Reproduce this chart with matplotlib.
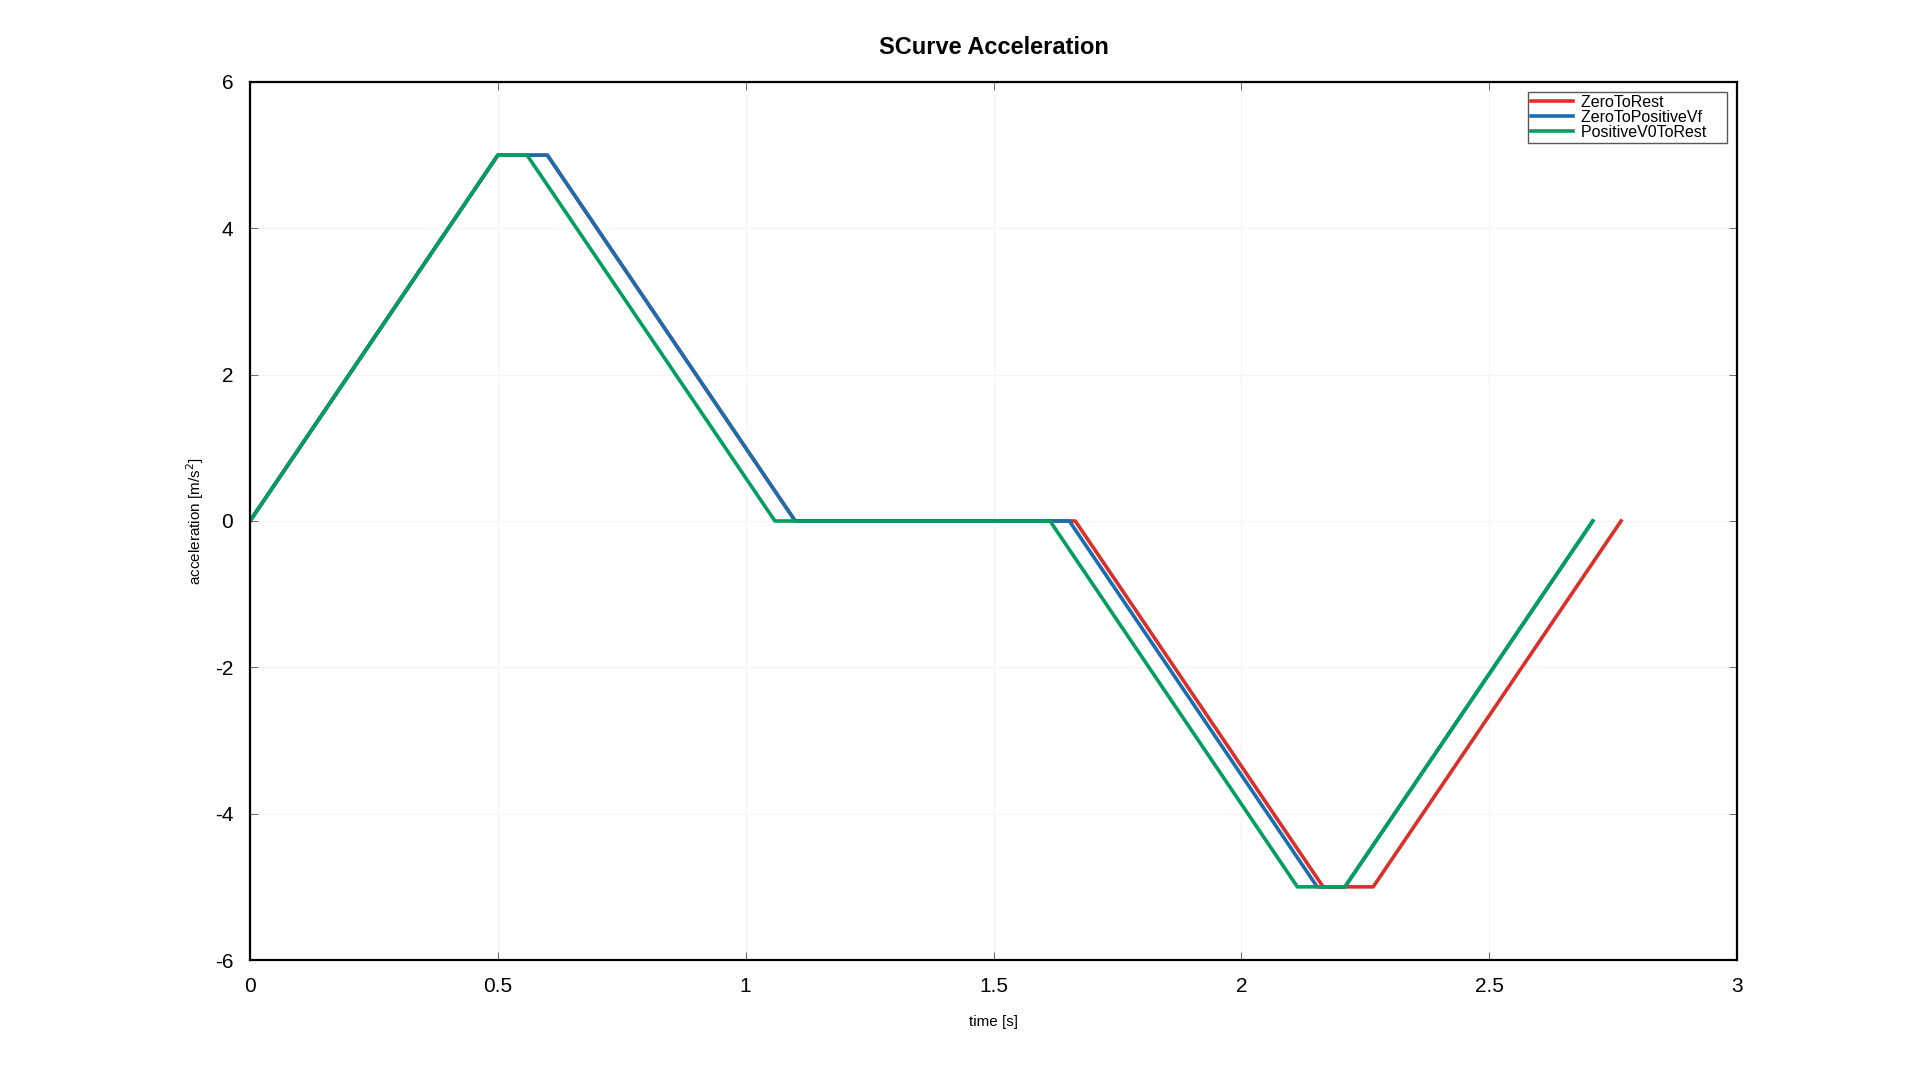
import numpy as np
import matplotlib
matplotlib.use('Agg')
import matplotlib.pyplot as plt

# breakpoints (time [s], acceleration [m/s^2])
t_zero_to_rest = [0, 0.5, 0.6, 1.1, 1.665, 2.165, 2.266, 2.766]
a_zero_to_rest = [0, 5, 5, 0, 0, -5, -5, 0]

t_zero_to_vf = [0, 0.5, 0.6, 1.1, 1.653, 2.153, 2.209, 2.709]
a_zero_to_vf = [0, 5, 5, 0, 0, -5, -5, 0]

t_v0_to_rest = [0, 0.5, 0.559, 1.059, 1.614, 2.113, 2.209, 2.709]
a_v0_to_rest = [0, 5, 5, 0, 0, -5, -5, 0]

labels = ['ZeroToRest', 'ZeroToPositiveVf', 'PositiveV0ToRest']
colors = ['#d8302a', '#1a6db0', '#009f5f']

plt.rcParams['font.family'] = ['Liberation Sans', 'DejaVu Sans']
plt.rcParams['axes.unicode_minus'] = False

fig = plt.figure(figsize=(19.2, 10.8), dpi=100)
ax = fig.add_axes([0.1302, 0.1111, 0.7745, 0.813])

ax.plot(t_zero_to_rest, a_zero_to_rest, color=colors[0], lw=2.6, label=labels[0])
ax.plot(t_zero_to_vf, a_zero_to_vf, color=colors[1], lw=2.6, label=labels[1])
ax.plot(t_v0_to_rest, a_v0_to_rest, color=colors[2], lw=2.6, label=labels[2])

ax.set_xlim(0, 3)
ax.set_ylim(-6, 6)
ax.set_xticks(np.arange(0, 3.01, 0.5))
ax.set_xticklabels(['0', '0.5', '1', '1.5', '2', '2.5', '3'])
ax.set_yticks(np.arange(-6, 7, 2))
ax.grid(True, color='#f5f5f5', lw=0.8)
ax.tick_params(direction='in', length=6, width=0.6, labelsize=15, pad=12,
               top=True, right=True, color='#555555')
for s in ax.spines.values():
    s.set_linewidth(1.6)

ax.set_title('SCurve Acceleration', fontsize=17, fontweight='bold', pad=20)
ax.set_xlabel('time [s]', fontsize=11, labelpad=14)
ax.set_ylabel('acceleration [m/s$^2$]', fontsize=11, labelpad=6)

leg = ax.legend(loc='upper right', fontsize=11.5, frameon=True, fancybox=False,
                edgecolor='#303030', handlelength=2.6, handletextpad=0.5,
                labelspacing=0.0, borderpad=0.2, borderaxespad=0.6)
leg.get_frame().set_linewidth(1.0)
for txt in leg.get_texts():
    txt.set_text(txt.get_text() + '    ')

fig.savefig('out.png', dpi=100)
